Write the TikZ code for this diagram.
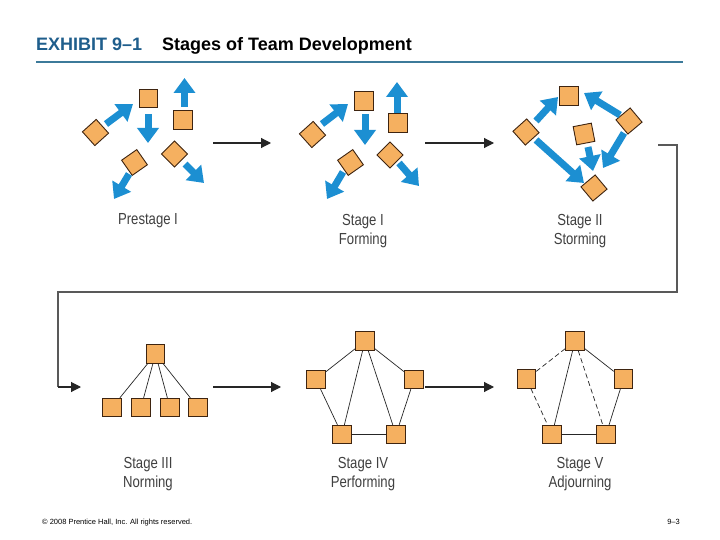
\documentclass[tikz,border=0pt]{standalone}
\usepackage{fontspec}
\setmainfont{Liberation Sans}
\newfontfamily\narrowfont[FakeStretch=0.82]{Liberation Sans}
\usetikzlibrary{arrows.meta}
\definecolor{sqfill}{HTML}{F5B060}
\definecolor{sqdraw}{HTML}{3E2410}
\definecolor{blu}{HTML}{1C8FD2}
\definecolor{titleblue}{HTML}{1F5E8C}
\definecolor{rulecol}{HTML}{3C7A9A}
\definecolor{labgray}{HTML}{404040}
\begin{document}
\begin{tikzpicture}[x=1pt,y=-1pt,
  sq/.style={draw=sqdraw,fill=sqfill,line width=0.9pt,minimum size=18.5pt,inner sep=0pt},
  barrow/.style={draw=blu,line width=7pt,-{Triangle[length=15pt,width=21pt,fill=blu]}},
  link/.style={draw=black!85,line width=0.7pt},
  dlink/.style={link,dash pattern=on 5pt off 3pt},
  flow/.style={draw=black!85,line width=1.1pt,-{Triangle[length=10pt,width=10pt]}},
  ret/.style={draw=black!65,line width=1.1pt},
  lab/.style={font=\narrowfont\fontsize{16}{19}\selectfont,text=labgray,align=center,anchor=base,inner sep=0pt}]
\useasboundingbox (0,0) rectangle (720,540);
\fill[white] (0,0) rectangle (720,540);

% title
\node[anchor=base west,inner sep=0pt,font=\bfseries\fontsize{18}{21}\selectfont,text=titleblue] (t1) at (36,51) {EXHIBIT 9–1};
\node[anchor=base west,inner sep=0pt,font=\bfseries\fontsize{18}{21}\selectfont] (t2) at (162,51) {Stages of Team Development};
\coordinate (r1) at (36,62); \coordinate (r2) at (683,62);
\draw[draw=rulecol,line width=1.8pt] (r1) -- (r2);

% ---- Panel 1: Prestage I
\node[sq] (a1) at (148.5,98.5) {};
\node[sq] (a2) at (183,120) {};
\node[sq,rotate=42] (a3) at (95.5,132.5) {};
\node[sq,rotate=35] (a4) at (134.5,162.5) {};
\node[sq,rotate=45] (a5) at (174.5,154) {};
\coordinate (a1u0) at (184.5,107); \coordinate (a1u1) at (184.5,78);
\coordinate (a1d0) at (148,114); \coordinate (a1d1) at (148,143);
\coordinate (a3u0) at (106,124); \coordinate (a3u1) at (133,104);
\coordinate (a4d0) at (129,174); \coordinate (a4d1) at (114,199);
\coordinate (a5d0) at (185,164); \coordinate (a5d1) at (204,183);
\draw[barrow] (a1u0) -- (a1u1);
\draw[barrow] (a1d0) -- (a1d1);
\draw[barrow] (a3u0) -- (a3u1);
\draw[barrow] (a4d0) -- (a4d1);
\draw[barrow] (a5d0) -- (a5d1);
\node[lab] (l1) at (148,225) {Prestage I};

% ---- Panel 2: Forming
\node[sq] (b1) at (364,101) {};
\node[sq] (b2) at (398,123) {};
\node[sq,rotate=42] (b3) at (312.5,134.5) {};
\node[sq,rotate=35] (b4) at (350.5,162.5) {};
\node[sq,rotate=45] (b5) at (390,155) {};
\coordinate (b2u0) at (397,113); \coordinate (b2u1) at (397,82);
\coordinate (b1d0) at (365,114); \coordinate (b1d1) at (365,145);
\coordinate (b3u0) at (322,124); \coordinate (b3u1) at (348,104);
\coordinate (b4d0) at (343,172); \coordinate (b4d1) at (327,199);
\coordinate (b5d0) at (399,163); \coordinate (b5d1) at (419,186);
\draw[barrow] (b2u0) -- (b2u1);
\draw[barrow] (b1d0) -- (b1d1);
\draw[barrow] (b3u0) -- (b3u1);
\draw[barrow] (b4d0) -- (b4d1);
\draw[barrow] (b5d0) -- (b5d1);
\node[lab] (l2) at (363,244) {Stage I\\Forming};

% ---- Panel 3: Storming
\node[sq] (c1) at (569,96) {};
\node[sq,rotate=42] (c2) at (526,132) {};
\node[sq,rotate=11] (c3) at (584,134) {};
\node[sq,rotate=40] (c4) at (629,121) {};
\node[sq,rotate=40] (c5) at (594,188) {};
\coordinate (c2u0) at (536,121); \coordinate (c2u1) at (558,97);
\coordinate (c4u0) at (620,115); \coordinate (c4u1) at (584,93);
\coordinate (c2d0) at (536,140); \coordinate (c2d1) at (584,183);
\coordinate (c3d0) at (588,147); \coordinate (c3d1) at (593,171);
\coordinate (c4d0) at (624,133); \coordinate (c4d1) at (603,168);
\draw[barrow] (c2u0) -- (c2u1);
\draw[barrow] (c4u0) -- (c4u1);
\draw[barrow] (c2d0) -- (c2d1);
\draw[barrow] (c3d0) -- (c3d1);
\draw[barrow] (c4d0) -- (c4d1);
\node[lab] (l3) at (580,244) {Stage II\\Storming};

% flows top row
\coordinate (f1a) at (213,143); \coordinate (f1b) at (271,143);
\coordinate (f2a) at (425,143); \coordinate (f2b) at (494,143);
\draw[flow] (f1a) -- (f1b);
\draw[flow] (f2a) -- (f2b);

% return connector
\coordinate (g1) at (658,145); \coordinate (g2) at (677,145);
\coordinate (g3) at (677,292); \coordinate (g4) at (58,292);
\coordinate (g5) at (58,387); \coordinate (g6) at (81,387);
\draw[ret] (g1) -- (g2) -- (g3) -- (g4) -- (g5);
\draw[flow] (g5) -- (g6);

% ---- Panel 4: Norming
\node[sq] (d0) at (155.5,354) {};
\node[sq] (d1) at (112,407.5) {};
\node[sq] (d2) at (141,407.5) {};
\node[sq] (d3) at (170,407.5) {};
\node[sq] (d4) at (198,407.5) {};
\draw[link] (d0) -- (d1);
\draw[link] (d0) -- (d2);
\draw[link] (d0) -- (d3);
\draw[link] (d0) -- (d4);
\node[lab] (l4) at (148,487) {Stage III\\Norming};

% ---- Panel 5: Performing
\node[sq] (e0) at (365,341) {};
\node[sq] (e1) at (316,379.5) {};
\node[sq] (e2) at (414,379.5) {};
\node[sq] (e3) at (342,434.5) {};
\node[sq] (e4) at (396,434.5) {};
\draw[link] (e0) -- (e1);
\draw[link] (e0) -- (e2);
\draw[link] (e0) -- (e3);
\draw[link] (e0) -- (e4);
\draw[link] (e1) -- (e3);
\draw[link] (e2) -- (e4);
\draw[link] (e3) -- (e4);
\node[lab] (l5) at (363,487) {Stage IV\\Performing};

% ---- Panel 6: Adjourning
\node[sq] (h0) at (575,341) {};
\node[sq] (h1) at (526.5,379) {};
\node[sq] (h2) at (623.5,379) {};
\node[sq] (h3) at (552,434.5) {};
\node[sq] (h4) at (606,434.5) {};
\draw[dlink] (h0) -- (h1);
\draw[link] (h0) -- (h2);
\draw[link] (h0) -- (h3);
\draw[dlink] (h0) -- (h4);
\draw[dlink] (h1) -- (h3);
\draw[link] (h2) -- (h4);
\draw[link] (h3) -- (h4);
\node[lab] (l6) at (580,487) {Stage V\\Adjourning};

% flows bottom row
\coordinate (f3a) at (213,387); \coordinate (f3b) at (281,387);
\coordinate (f4a) at (425,387); \coordinate (f4b) at (494,387);
\draw[flow] (f3a) -- (f3b);
\draw[flow] (f4a) -- (f4b);

% footer
\node[anchor=base west,inner sep=0pt,font=\fontsize{7.5}{9}\selectfont] (ft1) at (42,524) {© 2008 Prentice Hall, Inc. All rights reserved.};
\node[anchor=base east,inner sep=0pt,font=\fontsize{7.5}{9}\selectfont] (ft2) at (680,524) {9–3};
\end{tikzpicture}
\end{document}
